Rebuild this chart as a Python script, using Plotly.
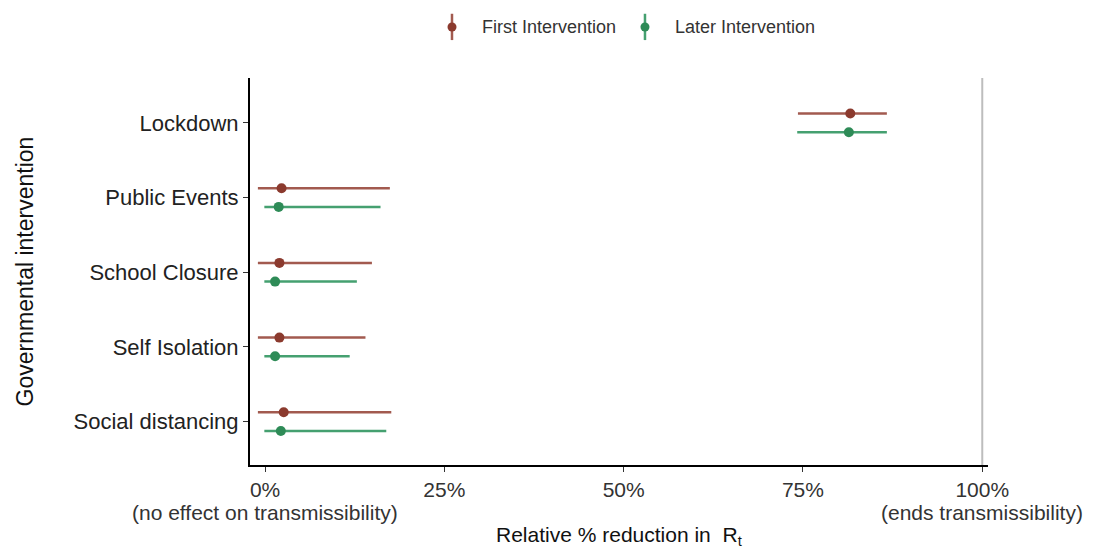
import plotly.graph_objects as go

categories = ["Lockdown", "Public Events", "School Closure", "Self Isolation", "Social distancing"]
cat_pos = [5, 4, 3, 2, 1]

first_mid = [81.6, 2.3, 2.0, 2.0, 2.6]
first_lo = [74.3, -1.0, -1.0, -1.0, -1.0]
first_hi = [86.7, 17.4, 14.9, 14.0, 17.6]

later_mid = [81.4, 1.9, 1.4, 1.4, 2.2]
later_lo = [74.2, -0.1, -0.1, -0.1, -0.1]
later_hi = [86.7, 16.1, 12.8, 11.8, 16.9]

x_ticks = [0, 25, 50, 75, 100]
x_ticklabels = ["0%", "25%", "50%", "75%", "100%"]
x_notes = {0: "(no effect on transmissibility)", 100: "(ends transmissibility)"}

dodge = 0.125
fig = go.Figure()

series = [
    ("First Intervention", first_mid, first_lo, first_hi, "#8b3a2e", "#a25a4f", dodge, 0.2737),
    ("Later Intervention", later_mid, later_lo, later_hi, "#2e8b57", "#45a070", -dodge, 0.5352),
]
for name, mid, lo, hi, mcol, lcol, off, lx in series:
    fig.add_trace(go.Scatter(
        x=mid, y=[p + off for p in cat_pos], mode="markers", name=name,
        marker=dict(color=mcol, size=10), showlegend=False,
        error_x=dict(type="data", symmetric=False,
                     array=[h - m for h, m in zip(hi, mid)],
                     arrayminus=[m - l for m, l in zip(mid, lo)],
                     color=lcol, thickness=2.5, width=0),
    ))
    # custom legend glyph: vertical bar with a dot, like ggplot pointrange key
    fig.add_shape(type="line", xref="paper", yref="paper", x0=lx, x1=lx,
                  y0=1.098, y1=1.166, line=dict(color=lcol, width=2.5))
    fig.add_shape(type="circle", xref="paper", yref="paper",
                  x0=lx - 0.0061, x1=lx + 0.0061, y0=1.1318 - 0.0116, y1=1.1318 + 0.0116,
                  fillcolor=mcol, line=dict(color=mcol, width=0))
    fig.add_annotation(x=lx + 0.038, xref="paper", y=1.1318, yref="paper", text=name,
                       showarrow=False, xanchor="left", yanchor="middle",
                       font=dict(size=18, color="#333333"))

fig.add_vline(x=100, line=dict(color="#bdbdbd", width=2), layer="below")

for xv, txt in x_notes.items():
    fig.add_annotation(x=xv, xref="x", y=-0.124, yref="paper", text=txt,
                       showarrow=False, xanchor="center", yanchor="middle",
                       font=dict(size=21, color="#333333"))

fig.add_annotation(x=0.5, xref="paper", y=-0.183, yref="paper",
                   text="Relative % reduction in  R<sub>t</sub>", showarrow=False,
                   xanchor="center", yanchor="middle", font=dict(size=21, color="#111111"))
fig.add_annotation(x=-0.305, xref="paper", y=0.5, yref="paper",
                   text="Governmental intervention", textangle=-90, showarrow=False,
                   xanchor="center", yanchor="middle", font=dict(size=23, color="#111111"))

fig.update_layout(
    width=1091, height=540,
    margin=dict(l=242, r=111, t=70, b=83),
    plot_bgcolor="white", paper_bgcolor="white",
    font=dict(family="Liberation Sans, Arial, sans-serif", size=22, color="#222222"),
    showlegend=False,
    xaxis=dict(range=[-2.1, 100.8], tickvals=x_ticks, ticktext=x_ticklabels,
               showgrid=False, zeroline=False, showline=True, linecolor="black",
               linewidth=2, ticks="outside", ticklen=5, tickcolor="#333333",
               tickfont=dict(size=21, color="#333333"), automargin=False),
    yaxis=dict(range=[0.42, 5.6], tickvals=cat_pos, ticktext=categories,
               showgrid=False, zeroline=False, showline=True, linecolor="black",
               linewidth=2, ticks="outside", ticklen=5, tickcolor="#333333",
               tickfont=dict(size=22, color="#222222"), automargin=False),
)

fig.write_html("out.html")
